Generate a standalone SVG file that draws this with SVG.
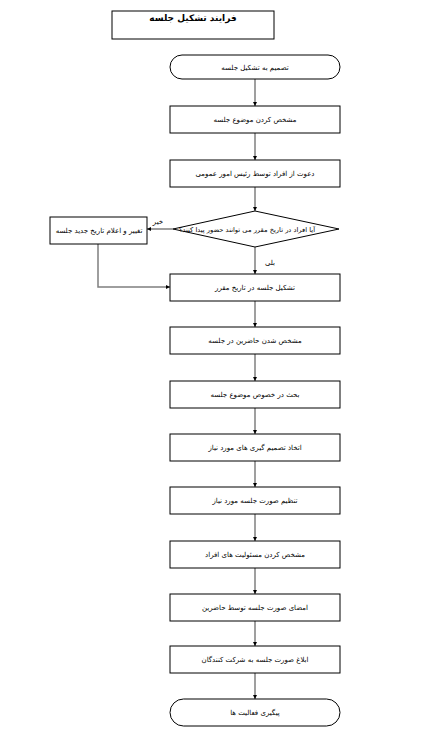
<svg xmlns="http://www.w3.org/2000/svg" width="434" height="743" viewBox="0 0 434 743">
<style>
.box{fill:#fff;stroke:#000;stroke-width:1}
.t{font-family:"DejaVu Sans",sans-serif;font-size:7px;fill:#000;text-anchor:middle;direction:rtl}
.title{font-family:"DejaVu Sans",sans-serif;font-size:9px;font-weight:bold;fill:#000;text-anchor:middle;direction:rtl}
.c{fill:none;stroke:#7f7f7f;stroke-width:1.5}
</style>
<defs>
<marker id="ah" viewBox="0 0 6 6" refX="6" refY="3" markerWidth="4" markerHeight="4" orient="auto" markerUnits="userSpaceOnUse">
<path d="M0,0 L6,3 L0,6 Z" fill="#000"/>
</marker>
</defs>
<rect width="434" height="743" fill="#fff"/>
<g id="title"><rect class="box" x="112" y="11" width="162" height="28"/><text class="title" x="193" y="21">فرایند تشکیل جلسه</text></g>
<g id="connectors">
<line class="c" x1="255" y1="79" x2="255" y2="106" marker-end="url(#ah)"/>
<line class="c" x1="255" y1="133" x2="255" y2="160" marker-end="url(#ah)"/>
<line class="c" x1="255" y1="187" x2="255" y2="211" marker-end="url(#ah)"/>
<line class="c" x1="173" y1="229" x2="147" y2="229" marker-end="url(#ah)"/>
<line class="c" x1="255" y1="247" x2="255" y2="274" marker-end="url(#ah)"/>
<polyline class="c" points="98,244 98,287 170,287" marker-end="url(#ah)"/>
<line class="c" x1="255" y1="301" x2="255" y2="327" marker-end="url(#ah)"/>
<line class="c" x1="255" y1="354" x2="255" y2="381" marker-end="url(#ah)"/>
<line class="c" x1="255" y1="408" x2="255" y2="434" marker-end="url(#ah)"/>
<line class="c" x1="255" y1="461" x2="255" y2="487" marker-end="url(#ah)"/>
<line class="c" x1="255" y1="514" x2="255" y2="541" marker-end="url(#ah)"/>
<line class="c" x1="255" y1="568" x2="255" y2="594" marker-end="url(#ah)"/>
<line class="c" x1="255" y1="621" x2="255" y2="646" marker-end="url(#ah)"/>
<line class="c" x1="255" y1="673" x2="255" y2="699" marker-end="url(#ah)"/>
<text class="t" x="158" y="224">خیر</text>
<text class="t" x="270" y="265">بلی</text>
</g>
<g id="n1"><rect class="box" x="170" y="55" width="170" height="24" rx="12"/><text class="t" x="255" y="69.5">تصمیم به تشکیل جلسه</text></g>
<g id="n2"><rect class="box" x="170" y="106" width="170" height="27"/><text class="t" x="255" y="122">مشخص کردن موضوع جلسه</text></g>
<g id="n3"><rect class="box" x="170" y="160" width="170" height="27"/><text class="t" x="255" y="176">دعوت از افراد توسط رئیس امور عمومی</text></g>
<g id="n4"><polygon class="box" points="255,211 339,229 255,247 173,229"/><text class="t" x="247" y="231.5" style="font-size:6.5px" textLength="136" lengthAdjust="spacingAndGlyphs">آیا افراد در تاریخ مقرر می توانند حضور پیدا کنند؟</text></g>
<g id="n4b"><rect class="box" x="50" y="217" width="97" height="27"/><text class="t" x="99" y="233">تغییر و اعلام تاریخ جدید جلسه</text></g>
<g id="n5"><rect class="box" x="170" y="274" width="170" height="27"/><text class="t" x="255" y="290">تشکیل جلسه در تاریخ مقرر</text></g>
<g id="n6"><rect class="box" x="170" y="327" width="170" height="27"/><text class="t" x="255" y="343">مشخص شدن حاضرین در جلسه</text></g>
<g id="n7"><rect class="box" x="170" y="381" width="170" height="27"/><text class="t" x="255" y="397">بحث در خصوص موضوع جلسه</text></g>
<g id="n8"><rect class="box" x="170" y="434" width="170" height="27"/><text class="t" x="255" y="450">اتخاذ تصمیم گیری های مورد نیاز</text></g>
<g id="n9"><rect class="box" x="170" y="487" width="170" height="27"/><text class="t" x="255" y="503">تنظیم صورت جلسه مورد نیاز</text></g>
<g id="n10"><rect class="box" x="170" y="541" width="170" height="27"/><text class="t" x="255" y="557">مشخص کردن مسئولیت های افراد</text></g>
<g id="n11"><rect class="box" x="170" y="594" width="170" height="27"/><text class="t" x="255" y="610">امضای صورت جلسه توسط حاضرین</text></g>
<g id="n12"><rect class="box" x="170" y="646" width="170" height="27"/><text class="t" x="255" y="662">ابلاغ صورت جلسه به شرکت کنندگان</text></g>
<g id="n13"><rect class="box" x="170" y="699" width="170" height="27" rx="13.5"/><text class="t" x="255" y="715">پیگیری فعالیت ها</text></g>
</svg>
